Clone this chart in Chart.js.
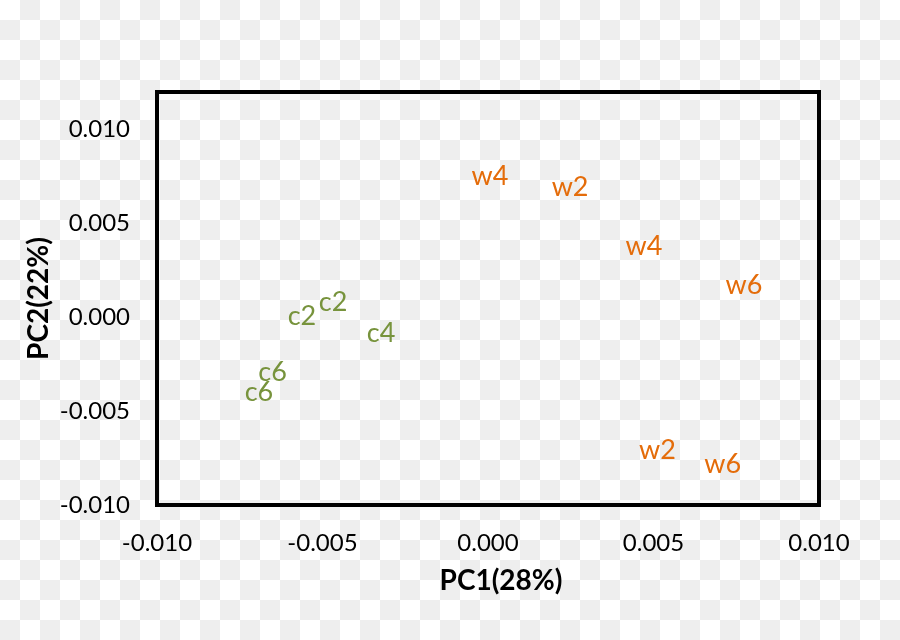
<!DOCTYPE html>
<html>
<head>
<meta charset="utf-8">
<script src="https://cdn.jsdelivr.net/npm/chart.js@4"></script>
<style>
html,body{margin:0;padding:0;}
body{width:900px;height:640px;background-color:#fff;
background-image:conic-gradient(#eeeeee 0 25%, #ffffff 0 50%, #eeeeee 0 75%, #ffffff 0);
background-size:40px 40px;}
#wrap{position:relative;width:900px;height:640px;}
</style>
</head>
<body>
<div id="wrap"><canvas id="c" width="900" height="640"></canvas></div>
<script>
// Control samples (green)
const controlLabels = ["c2", "c2", "c4", "c6", "c6"];
const controlPC1 = [-0.00562, -0.00468, -0.00323, -0.00651, -0.00692];
const controlPC2 = [0.00004, 0.00079, -0.00084, -0.00291, -0.00401];
// Treatment samples (orange)
const treatLabels = ["w4", "w2", "w4", "w6", "w2", "w6"];
const treatPC1 = [0.00006, 0.00248, 0.00471, 0.00773, 0.00512, 0.00709];
const treatPC2 = [0.00750, 0.00692, 0.00380, 0.00172, -0.00707, -0.00782];
// Axis ticks
const xTicks = [-0.010, -0.005, 0.000, 0.005, 0.010];
const yTicks = [-0.010, -0.005, 0.000, 0.005, 0.010];
const xTitle = "PC1(28%)";
const yTitle = "PC2(22%)";

const FONT = "Lato, 'Open Sans', sans-serif";

function pts(xs, ys) { return xs.map((x, i) => ({x: x, y: ys[i]})); }

const labelPlugin = {
  id: 'labelPlugin',
  afterDatasetsDraw(chart) {
    const ctx = chart.ctx;
    chart.data.datasets.forEach((ds, di) => {
      const meta = chart.getDatasetMeta(di);
      ctx.save();
      ctx.font = "27px " + FONT;
      ctx.fillStyle = ds.textColor;
      ctx.textAlign = 'center';
      ctx.textBaseline = 'middle';
      meta.data.forEach((el, i) => {
        ctx.fillText(ds.labels[i], el.x, el.y);
      });
      ctx.restore();
    });
  },
  afterDraw(chart) {
    const ctx = chart.ctx;
    const a = chart.chartArea;
    ctx.save();
    ctx.strokeStyle = '#000';
    ctx.lineWidth = 4;
    ctx.strokeRect(a.left, a.top, a.right - a.left, a.bottom - a.top);
    ctx.fillStyle = '#000';
    ctx.font = "bold 28px " + FONT;
    ctx.textAlign = 'center';
    ctx.textBaseline = 'middle';
    ctx.fillText(xTitle, (a.left + a.right) / 2 + 13, 581);
    ctx.translate(39, (a.top + a.bottom) / 2);
    ctx.rotate(-Math.PI / 2);
    ctx.fillText(yTitle, 0, 0);
    ctx.restore();
  }
};

new Chart(document.getElementById('c'), {
  type: 'scatter',
  data: {
    datasets: [
      { label: 'control', data: pts(controlPC1, controlPC2), labels: controlLabels,
        textColor: '#77933C', pointRadius: 0, pointHoverRadius: 0 },
      { label: 'treatment', data: pts(treatPC1, treatPC2), labels: treatLabels,
        textColor: '#E46C0A', pointRadius: 0, pointHoverRadius: 0 }
    ]
  },
  options: {
    responsive: false,
    animation: false,
    events: [],
    layout: { padding: { top: 92, right: 81, left: 0, bottom: 0 } },
    plugins: { legend: { display: false }, tooltip: { enabled: false } },
    scales: {
      x: {
        type: 'linear', min: -0.010, max: 0.010,
        grid: { display: false, drawTicks: false },
        border: { display: false },
        afterBuildTicks(s) { s.ticks = xTicks.map(v => ({value: v})); },
        afterFit(s) { s.height = 135; },
        ticks: { padding: 24, color: '#000', font: { family: FONT, size: 24 },
          callback: v => v.toFixed(3) }
      },
      y: {
        type: 'linear', min: -0.010, max: 0.012,
        grid: { display: false, drawTicks: false },
        border: { display: false },
        afterBuildTicks(s) { s.ticks = yTicks.map(v => ({value: v})); },
        afterFit(s) { s.width = 157; },
        ticks: { padding: 27, color: '#000', font: { family: FONT, size: 24 },
          callback: v => v.toFixed(3) }
      }
    }
  },
  plugins: [labelPlugin]
});
</script>
</body>
</html>
